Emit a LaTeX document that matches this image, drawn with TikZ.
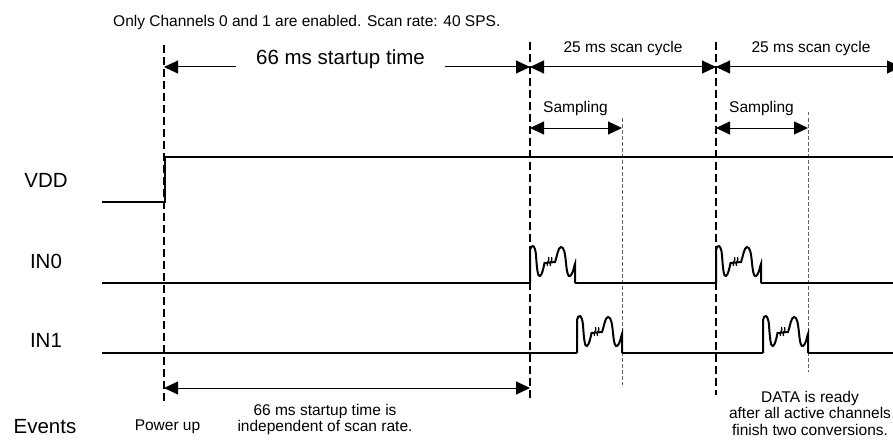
\documentclass[tikz,border=0pt]{standalone}
\usepackage{fontspec}
\setmainfont{Liberation Sans}
\usetikzlibrary{arrows.meta,positioning}
\tikzset{>={Triangle[length=14pt,width=13pt]}}
\tikzset{
  sig/.style={line width=2pt},
  dim/.style={line width=1pt},
  guide/.style={line width=1.3pt,dash pattern=on 8pt off 4pt},
  guidegray/.style={line width=1pt,black!60,dash pattern=on 3.5pt off 2.5pt},
  big/.style={font=\fontsize{20.5}{24}\selectfont,inner sep=0pt},
  small/.style={font=\fontsize{15.5}{16.5}\selectfont,inner sep=0pt},
  pics/burst/.style={code={
    \draw[sig] (0,0) -- (0,-33)
      .. controls (1,-39) and (5,-39) .. (6,-28)
      .. controls (7,-12) and (8,-6) .. (10,-7)
      .. controls (12,-8) and (13.5,-15) .. (14.5,-20)
      -- (25,-21)
      .. controls (27,-26) and (28,-36) .. (31,-36)
      .. controls (34,-36) and (35,-30) .. (36,-20)
      .. controls (37,-10) and (38,-6) .. (40,-7)
      .. controls (42,-8) and (43.5,-13) .. (44,-16)
      -- (45,-19) -- (45,0);
    \draw[line width=1.2pt] (17.5,-17) .. controls (15.5,-21) and (20.5,-22) .. (18.5,-26);
    \draw[line width=1.2pt] (20.5,-17) .. controls (18.5,-21) and (23.5,-22) .. (21.5,-26);
  }}
}

\begin{document}
\begin{tikzpicture}[x=1pt,y=-1pt]
\useasboundingbox (0,0) rectangle (893,441);

% time marks
\coordinate (pwrT) at (164,45);  \coordinate (pwrB) at (164,405);
\coordinate (cyaT) at (530,42);  \coordinate (cyaB) at (530,398);
\coordinate (smaT) at (622,118); \coordinate (smaB) at (622,385);
\coordinate (cybT) at (716,42);  \coordinate (cybB) at (716,395);
\coordinate (smbT) at (808,112); \coordinate (smbB) at (808,372);
\draw[guide] (pwrT) -- (pwrB);
\draw[guide] (cyaT) -- (cyaB);
\draw[guide] (cybT) -- (cybB);
\draw[guidegray] (smaT) -- (smaB);
\draw[guidegray] (smbT) -- (smbB);

\node[small,anchor=base west] (title) at (113,27) {Only Channels 0 and 1 are enabled. Scan rate: 40 SPS.};

% startup and scan cycle
\coordinate (su0) at (164,67); \coordinate (su1) at (530,67);
\coordinate (sc1) at (716,67); \coordinate (sc2) at (901,67);
\node[big,anchor=base,inner xsep=20pt] (sulbl) at (340.5,65) {66 ms startup time};
\draw[dim,->] (sulbl.west |- su0) -- (su0);
\draw[dim,->] (sulbl.east |- su1) -- (su1);
\draw[dim,<->] (su1) -- (sc1);
\draw[dim,<->] (sc1) -- (sc2);
\node[small,anchor=base] (cyclea) at (623,52.5) {25 ms scan cycle};
\node[small,anchor=base] (cycleb) at (811,52.5) {25 ms scan cycle};

% sampling windows
\coordinate (sa0) at (530,128); \coordinate (sa1) at (622,128);
\coordinate (sb0) at (716,128); \coordinate (sb1) at (808,128);
\draw[dim,<->] (sa0) -- (sa1);
\draw[dim,<->] (sb0) -- (sb1);
\node[small,anchor=base] (sampa) at (575.5,113) {Sampling};
\node[small,anchor=base] (sampb) at (761.5,113) {Sampling};

% signals
\node[big,anchor=base] (vdd) at (46,187) {VDD};
\node[big,anchor=base] (in0) at (46,268) {IN0};
\node[big,anchor=base] (in1) at (46,347) {IN1};
\node[big,anchor=base] (events) at (45,433) {Events};

\draw[sig] (102,202) -- (165,202) -- (165,157) -- (893,157);

\draw[sig] (102,283) -- (530,283);
\pic at (530,283) {burst};
\draw[sig] (575,283) -- (716,283);
\pic at (716,283) {burst};
\draw[sig] (761,283) -- (893,283);

\draw[sig] (102,353) -- (577,353);
\pic at (577,353) {burst};
\draw[sig] (622,353) -- (763,353);
\pic at (763,353) {burst};
\draw[sig] (808,353) -- (893,353);

% events
\coordinate (ev0) at (164,388); \coordinate (ev1) at (530,388);
\draw[dim,<->] (ev0) -- (ev1);
\node[small,anchor=base] (pwrup) at (167.5,430) {Power up};
\node[small,anchor=north,align=center] (indep) at (325,404) {66 ms startup time is\\independent of scan rate.};
\node[small,anchor=north,align=center] (ready) at (810,391) {DATA is ready\\after all active channels\\finish two conversions.};
\end{tikzpicture}
\end{document}
